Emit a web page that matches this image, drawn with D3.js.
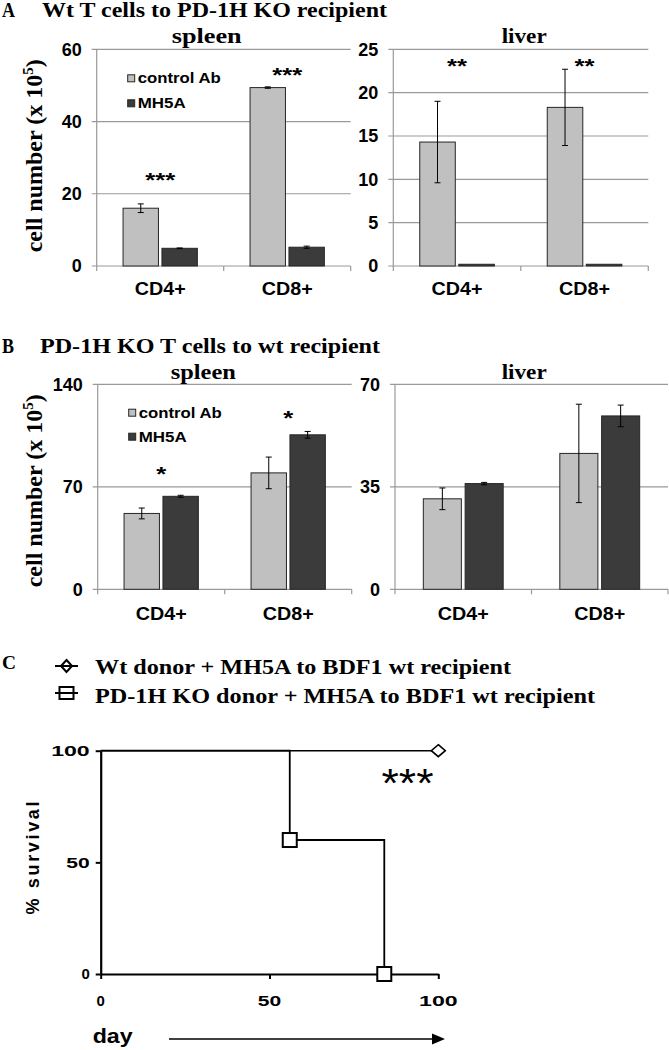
<!DOCTYPE html>
<html><head><meta charset="utf-8">
<script src="https://cdn.jsdelivr.net/npm/d3@7"></script>
<style>body{margin:0;background:#fff}svg{display:block}</style>
</head><body>
<svg id="c" width="669" height="1050"></svg>
<script>
const categories = ["CD4+", "CD8+"];
const seriesNames = ["control Ab", "MH5A"];
// Panel A: Wt T cells to PD-1H KO recipient
const aSpleenControl = [16.0, 49.4], aSpleenControlErr = [1.2, 0.2];
const aSpleenMH5A = [4.9, 5.2], aSpleenMH5AErr = [0.1, 0.3];
const aSpleenSig = ["***", "***"], aSpleenSigAt = [25.0, 54.0];
const aSpleenTicks = [0, 20, 40, 60];
const aLiverControl = [14.3, 18.3], aLiverControlErr = [4.7, 4.4];
const aLiverMH5A = [0.2, 0.2], aLiverMH5AErr = [0, 0];
const aLiverSig = ["**", "**"], aLiverSigAt = [23.5, 23.5];
const aLiverTicks = [0, 5, 10, 15, 20, 25];
// Panel B: PD-1H KO T cells to wt recipient
const bSpleenControl = [51.8, 79.5], bSpleenControlErr = [3.7, 10.8];
const bSpleenMH5A = [63.5, 105.5], bSpleenMH5AErr = [0.7, 2.3];
const bSpleenSig = ["*", "*"], bSpleenSigAt = [81.3, 119.9];
const bSpleenTicks = [0, 70, 140];
const bLiverControl = [30.9, 46.4], bLiverControlErr = [3.7, 16.8];
const bLiverMH5A = [36.1, 59.2], bLiverMH5AErr = [0.4, 3.7];
const bLiverSig = ["", ""], bLiverSigAt = [0, 0];
const bLiverTicks = [0, 35, 70];
// Panel C: survival
const survXTicks = [0, 50, 100], survYTicks = [0, 50, 100];
const wtDays = [0, 100], wtSurvival = [100, 100];
const koDays = [0, 56, 84], koSurvival = [100, 60, 0];
const survLegend = ["Wt donor + MH5A to BDF1 wt recipient", "PD-1H KO donor + MH5A to BDF1 wt recipient"];

const SERIF = "'Liberation Serif','Times New Roman',serif";
const SANS = "'Liberation Sans',Arial,sans-serif";
const LIGHT = "#c0c0c0", DARK = "#3b3b3b", GRID = "#9a9a9a";
const svg = d3.select("#c");

function label(parent, s, x, y, o = {}) {
  const t = parent.append("text").attr("font-family", o.family || SANS)
    .attr("font-size", o.size || 16).attr("font-weight", o.weight || "bold")
    .attr("fill", "#000").text(s);
  let ax = x;
  if (o.len) {
    t.attr("textLength", o.len).attr("lengthAdjust", "spacingAndGlyphs");
    if (o.anchor === "middle") ax = x - o.len / 2; else if (o.anchor === "end") ax = x - o.len;
  } else t.attr("text-anchor", o.anchor || "start");
  t.attr("x", ax).attr("y", y);
  return t;
}

function barPanel(cfg) {
  const g = svg.append("g");
  const y = d3.scaleLinear().domain([0, d3.max(cfg.ticks)]).range([cfg.yBottom, cfg.yTop]);
  const x = d3.scaleBand().domain(categories).range([cfg.x0, cfg.x1]).paddingInner(0.415).paddingOuter(0.2075);
  const xs = d3.scaleBand().domain(seriesNames).range([0, x.bandwidth()]).paddingInner(0.09);
  g.selectAll("line.grid").data(cfg.ticks).join("line").attr("class", "grid")
    .attr("x1", cfg.x0 - 5).attr("x2", cfg.x1).attr("y1", d => y(d)).attr("y2", d => y(d))
    .attr("stroke", GRID).attr("stroke-width", 1.2);
  g.append("line").attr("x1", cfg.x0).attr("x2", cfg.x0).attr("y1", y(0)).attr("y2", y(d3.max(cfg.ticks)))
    .attr("stroke", GRID).attr("stroke-width", 1.2);
  const bounds = d3.range(categories.length + 1).map(i => cfg.x0 + i * x.step());
  g.selectAll("line.xt").data(bounds).join("line").attr("class", "xt")
    .attr("x1", d => d).attr("x2", d => d).attr("y1", y(0)).attr("y2", y(0) + 5)
    .attr("stroke", GRID).attr("stroke-width", 1.2);
  cfg.ticks.forEach(d => label(g, d, cfg.x0 - 15, y(d) + 6.4, { size: 18, anchor: "end" }));
  const rows = categories.map((c, i) => [
    { c, s: seriesNames[0], v: cfg.control[i], e: cfg.controlErr[i], fill: LIGHT },
    { c, s: seriesNames[1], v: cfg.mh5a[i], e: cfg.mh5aErr[i], fill: DARK }
  ]).flat();
  g.selectAll("rect.bar").data(rows).join("rect").attr("class", "bar")
    .attr("x", d => x(d.c) + xs(d.s)).attr("width", xs.bandwidth())
    .attr("y", d => y(d.v)).attr("height", d => y(0) - y(d.v))
    .attr("fill", d => d.fill).attr("stroke", "#262626").attr("stroke-width", 1);
  const eb = rows.filter(d => d.e > 0);
  const cx = d => x(d.c) + xs(d.s) + xs.bandwidth() / 2;
  g.selectAll("line.eb").data(eb).join("line").attr("class", "eb")
    .attr("x1", cx).attr("x2", cx).attr("y1", d => y(d.v - d.e)).attr("y2", d => y(d.v + d.e))
    .attr("stroke", "#000").attr("stroke-width", 1);
  ["hi", "lo"].forEach(k => {
    g.selectAll("line.cap" + k).data(eb).join("line").attr("class", "cap" + k)
      .attr("x1", d => cx(d) - 3).attr("x2", d => cx(d) + 3)
      .attr("y1", d => y(k === "hi" ? d.v + d.e : d.v - d.e)).attr("y2", d => y(k === "hi" ? d.v + d.e : d.v - d.e))
      .attr("stroke", "#000").attr("stroke-width", 1);
  });
  categories.forEach((c, i) => {
    const s = cfg.sig[i];
    if (!s) return;
    label(g, s, x(c) + x.bandwidth() / 2, y(cfg.sigAt[i]) + 11, { size: 21, anchor: "middle", len: s.length * 10 });
  });
  categories.forEach(c => label(g, c, x(c) + x.bandwidth() / 2, cfg.catY, { size: 18, anchor: "middle", len: 51 }));
  label(g, cfg.name, cfg.nameX, cfg.nameY, { family: SERIF, size: 22, anchor: "middle", len: cfg.nameLen });
  if (cfg.legendY) {
    seriesNames.forEach((s, i) => {
      const ly = cfg.legendY[i];
      g.append("rect").attr("x", cfg.x0 + 31).attr("y", ly - 3.5).attr("width", 7).attr("height", 7)
        .attr("fill", i === 0 ? LIGHT : DARK).attr("stroke", "#262626").attr("stroke-width", 1);
      label(g, s, cfg.x0 + 41, ly + 5, { size: 14, len: i === 0 ? 83 : 48 });
    });
  }
}

// Panel titles
label(svg, "A", 2, 17, { family: SERIF, size: 20, len: 13 });
label(svg, "Wt T cells to PD-1H KO recipient", 42, 17, { family: SERIF, size: 20, len: 345 });
label(svg, "B", 2, 353, { family: SERIF, size: 20, len: 12 });
label(svg, "PD-1H KO T cells to wt recipient", 40, 353, { family: SERIF, size: 20, len: 340 });

function yLabel(cy) {
  const t = svg.append("text").attr("transform", `translate(42,${cy}) rotate(-90)`)
    .attr("text-anchor", "middle").attr("font-family", SERIF).attr("font-weight", "bold").attr("font-size", 24);
  t.append("tspan").text("cell number (x 10");
  t.append("tspan").attr("font-size", 15).attr("dy", -9).text("5");
  t.append("tspan").attr("dy", 9).text(")");
}
yLabel(155.8);
yLabel(490.8);

barPanel({ x0: 96.7, x1: 350.7, yTop: 49.3, yBottom: 266, ticks: aSpleenTicks,
  control: aSpleenControl, controlErr: aSpleenControlErr, mh5a: aSpleenMH5A, mh5aErr: aSpleenMH5AErr,
  sig: aSpleenSig, sigAt: aSpleenSigAt, catY: 295, name: "spleen", nameX: 206.7, nameY: 43, nameLen: 70,
  legendY: [78.3, 103.3] });
barPanel({ x0: 393.3, x1: 648.3, yTop: 49.3, yBottom: 266, ticks: aLiverTicks,
  control: aLiverControl, controlErr: aLiverControlErr, mh5a: aLiverMH5A, mh5aErr: aLiverMH5AErr,
  sig: aLiverSig, sigAt: aLiverSigAt, catY: 295, name: "liver", nameX: 524.2, nameY: 43, nameLen: 45 });
barPanel({ x0: 97.7, x1: 351.7, yTop: 384.3, yBottom: 589.3, ticks: bSpleenTicks,
  control: bSpleenControl, controlErr: bSpleenControlErr, mh5a: bSpleenMH5A, mh5aErr: bSpleenMH5AErr,
  sig: bSpleenSig, sigAt: bSpleenSigAt, catY: 619.5, name: "spleen", nameX: 203.3, nameY: 378.5, nameLen: 65,
  legendY: [412.7, 436.7] });
barPanel({ x0: 395, x1: 668, yTop: 384.3, yBottom: 589.3, ticks: bLiverTicks,
  control: bLiverControl, controlErr: bLiverControlErr, mh5a: bLiverMH5A, mh5aErr: bLiverMH5AErr,
  sig: bLiverSig, sigAt: bLiverSigAt, catY: 619.5, name: "liver", nameX: 524.2, nameY: 378.5, nameLen: 45 });

// Panel C legend
label(svg, "C", 2, 669, { family: SERIF, size: 19, len: 14 });
const legRows = [666, 693];
const lg = svg.append("g");
lg.selectAll("line.leg").data(legRows).join("line").attr("class", "leg")
  .attr("x1", 55).attr("x2", 78).attr("y1", d => d).attr("y2", d => d).attr("stroke", "#000").attr("stroke-width", 2);
lg.append("path").attr("d", `M66.5,${legRows[0] - 6}L72,${legRows[0]}L66.5,${legRows[0] + 6}L61,${legRows[0]}Z`)
  .attr("fill", "none").attr("stroke", "#000").attr("stroke-width", 2);
lg.append("rect").attr("x", 59.5).attr("y", legRows[1] - 6).attr("width", 14).attr("height", 12)
  .attr("fill", "none").attr("stroke", "#000").attr("stroke-width", 2);
label(svg, survLegend[0], 95, 673.5, { family: SERIF, size: 20, len: 416 });
label(svg, survLegend[1], 95, 702.5, { family: SERIF, size: 20, len: 500 });

// Panel C survival plot
const sx = d3.scaleLinear().domain([0, 100]).range([100.7, 438.3]);
const sy = d3.scaleLinear().domain([0, 100]).range([974, 750.7]);
const gx = svg.append("g").attr("transform", `translate(0,${sy(0)})`)
  .call(d3.axisBottom(sx).tickValues(survXTicks).tickSize(5).tickSizeOuter(0).tickFormat(""));
const gy = svg.append("g").attr("transform", `translate(${sx(0)},0)`)
  .call(d3.axisLeft(sy).tickValues(survYTicks).tickSize(5).tickSizeOuter(0).tickFormat(""));
[gx, gy].forEach(a => { a.select(".domain").attr("stroke-width", 2.2); a.selectAll(".tick line").attr("stroke-width", 2); });
const digitLen = s => s.length * 8.3 + (s.length - 1) * 6.8;
survYTicks.forEach(d => label(svg, String(d), sx(0) - 11, sy(d) + 5.4, { size: 15, anchor: "end", len: digitLen(String(d)) }));
survXTicks.forEach(d => label(svg, String(d), sx(d), 1006, { size: 15, anchor: "middle", len: digitLen(String(d)) }));

const step = d3.line().curve(d3.curveStepAfter).x(d => sx(d[0])).y(d => sy(d[1]));
svg.append("path").attr("d", step(wtDays.map((d, i) => [d, wtSurvival[i]])))
  .attr("fill", "none").attr("stroke", "#000").attr("stroke-width", 1.4);
svg.append("path").attr("d", step(koDays.map((d, i) => [d, koSurvival[i]])))
  .attr("fill", "none").attr("stroke", "#000").attr("stroke-width", 1.8);
const wl = wtDays.length - 1;
svg.append("path").attr("d", `M${sx(wtDays[wl])},${sy(wtSurvival[wl]) - 6}l7,6l-7,6l-7,-6z`)
  .attr("fill", "#fff").attr("stroke", "#000").attr("stroke-width", 1.6);
svg.selectAll("rect.ko").data(koDays.slice(1).map((d, i) => [d, koSurvival[i + 1]])).join("rect").attr("class", "ko")
  .attr("x", d => sx(d[0]) - 7).attr("y", d => sy(d[1]) - 7).attr("width", 14).attr("height", 14)
  .attr("fill", "#fff").attr("stroke", "#000").attr("stroke-width", 2);
label(svg, "***", 407.5, 797, { size: 40, weight: "normal", anchor: "middle", len: 52 });

svg.append("text").attr("transform", `translate(38.5,858) rotate(-90)`)
  .attr("font-family", SANS).attr("font-weight", "bold").attr("font-size", 18)
  .attr("x", -56.5).attr("textLength", 113).attr("lengthAdjust", "spacing").text("% survival");
label(svg, "day", 92.7, 1043, { size: 20, len: 40 });
svg.append("line").attr("x1", 169).attr("x2", 436).attr("y1", 1039).attr("y2", 1039).attr("stroke", "#000").attr("stroke-width", 1.6);
svg.append("path").attr("d", "M445,1039L432,1033.5L432,1044.5Z").attr("fill", "#000");
</script>
</body></html>
